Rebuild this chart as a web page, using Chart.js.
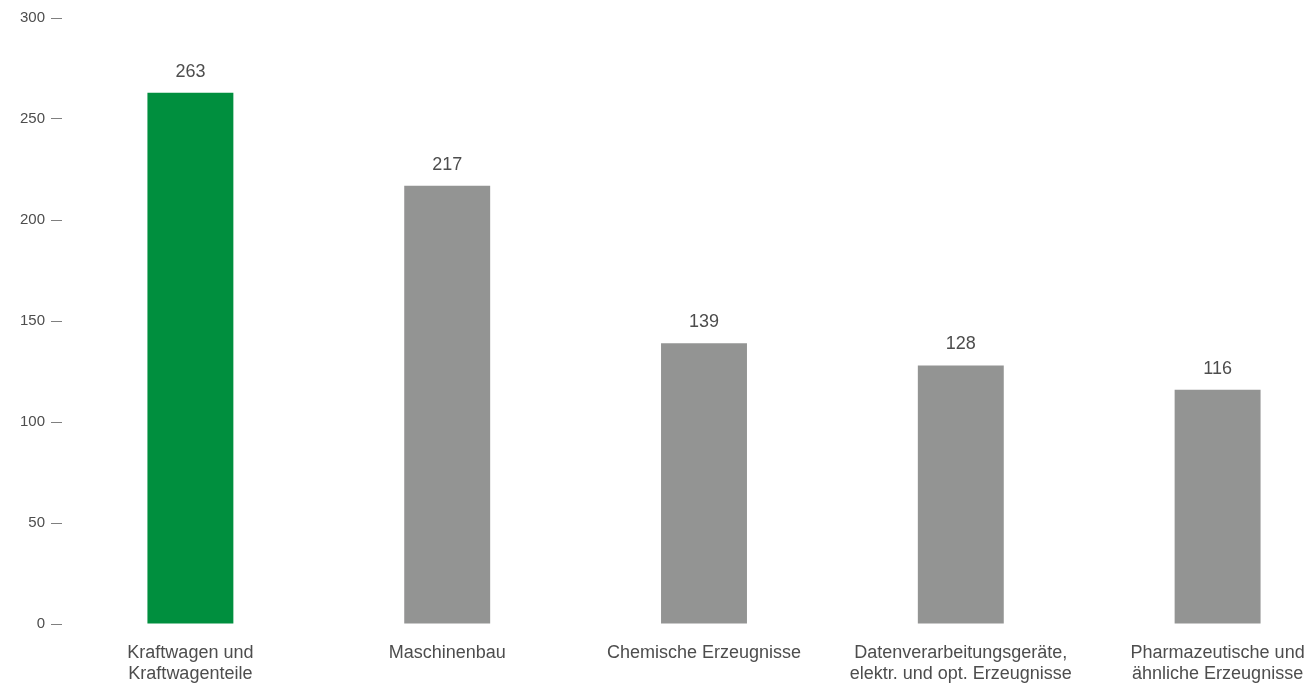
<!DOCTYPE html>
<html>
<head>
<meta charset="utf-8">
<script src="https://cdn.jsdelivr.net/npm/chart.js@4.4.1/dist/chart.umd.min.js"></script>
<style>
  html, body { margin: 0; padding: 0; background: #ffffff; overflow: hidden; }
  #wrap { position: relative; width: 1346px; height: 685px; }
</style>
</head>
<body>
<div id="wrap"><canvas id="c"></canvas></div>
<script>
const categories = [
  ["Kraftwagen und", "Kraftwagenteile"],
  ["Maschinenbau"],
  ["Chemische Erzeugnisse"],
  ["Datenverarbeitungsgeräte,", "elektr. und opt. Erzeugnisse"],
  ["Pharmazeutische und", "ähnliche Erzeugnisse"]
];
const values = [263, 217, 139, 128, 116];
const barColors = ["#008f3e", "#939493", "#939493", "#939493", "#939493"];
const yTicks = [0, 50, 100, 150, 200, 250, 300];

const TEXT = "#4d4d4d";
const FONT = "'Liberation Sans', Arial, sans-serif";

const valueLabels = {
  id: "valueLabels",
  afterDatasetsDraw(chart) {
    const ctx = chart.ctx;
    const meta = chart.getDatasetMeta(0);
    ctx.save();
    ctx.font = "18px " + FONT;
    ctx.fillStyle = TEXT;
    ctx.textAlign = "center";
    ctx.textBaseline = "alphabetic";
    meta.data.forEach((bar, i) => {
      ctx.fillText(String(values[i]), bar.x, bar.y - 16);
    });
    ctx.restore();
  }
};

new Chart(document.getElementById("c"), {
  type: "bar",
  data: {
    labels: categories,
    datasets: [{
      data: values,
      backgroundColor: barColors,
      borderWidth: 0,
      barPercentage: 86 / 257,
      categoryPercentage: 1
    }]
  },
  options: {
    responsive: true,
    maintainAspectRatio: false,
    animation: false,
    layout: { padding: { top: 18, left: 0, right: 0, bottom: 0 } },
    plugins: { legend: { display: false }, tooltip: { enabled: false } },
    scales: {
      x: {
        grid: { display: false, drawTicks: false },
        border: { display: false },
        ticks: {
          color: TEXT,
          font: { family: FONT, size: 18, lineHeight: 1.2 },
          padding: 18,
          maxRotation: 0,
          autoSkip: false
        },
        afterFit(scale) { scale.height = 61; }
      },
      y: {
        min: 0,
        max: 300,
        afterBuildTicks(scale) { scale.ticks = yTicks.map(v => ({ value: v })); },
        grid: { drawOnChartArea: false, drawTicks: true, tickLength: 11, color: "#7f7f7f", lineWidth: 1 },
        border: { display: false },
        ticks: {
          color: TEXT,
          font: { family: FONT, size: 15 },
          padding: 6
        },
        afterFit(scale) { scale.width = 62; }
      }
    }
  },
  plugins: [valueLabels]
});
</script>
</body>
</html>
